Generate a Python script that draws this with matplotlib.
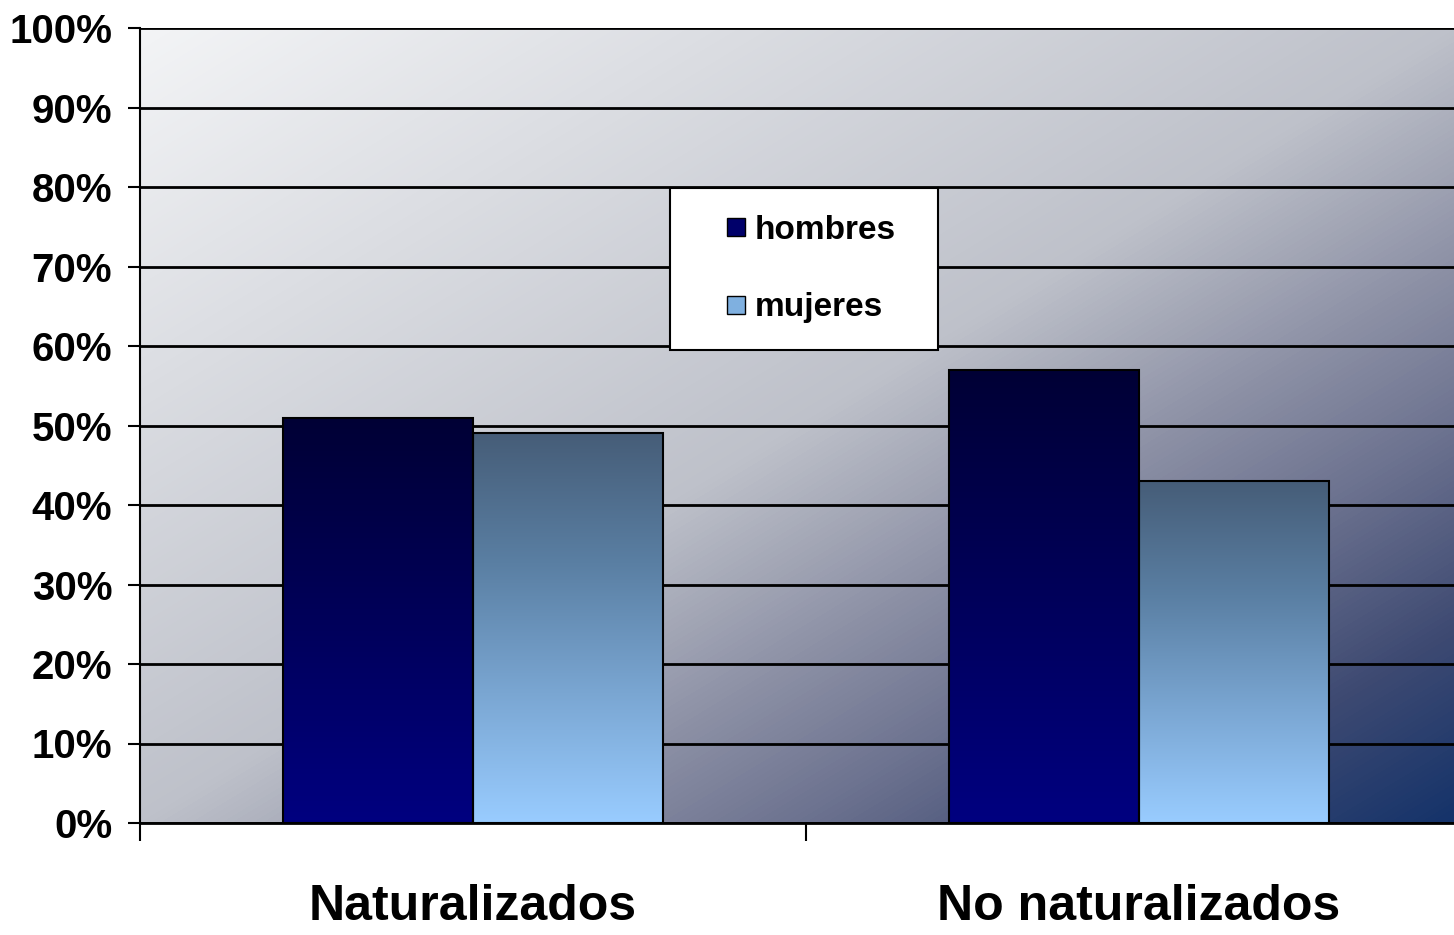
import numpy as np
import matplotlib
matplotlib.use("Agg")
import matplotlib.pyplot as plt
from matplotlib.colors import LinearSegmentedColormap
from matplotlib.lines import Line2D

# data (percent of each group)
categories = ["Naturalizados", "No naturalizados"]
hombres = [51, 57]
mujeres = [49, 43]
series_names = ["hombres", "mujeres"]
yticks = [0, 10, 20, 30, 40, 50, 60, 70, 80, 90, 100]

plt.rcParams["font.family"] = ["Liberation Sans", "DejaVu Sans"]

W, H = 1454, 935
fig = plt.figure(figsize=(W / 100, H / 100), dpi=100)
# axis area runs past the right edge of the picture, like the original
ax = fig.add_axes([140 / W, 1 - 823 / H, 1332 / W, 795 / H])

# diagonal background gradient, light top-left -> dark blue bottom-right
bg_cmap = LinearSegmentedColormap.from_list(
    "bg", [(0.0, "#f3f4f6"), (0.5, "#bec1ca"), (0.64, "#8f93a7"),
           (0.75, "#6d7390"), (0.88, "#3e4a72"), (1.0, "#15336a")])
gx, gy = np.meshgrid(np.linspace(0, 1332 / 1314, 300), np.linspace(0, 1, 200))
grad = np.clip((gx + gy) / 2, 0, 1)
ax.imshow(grad, cmap=bg_cmap, vmin=0, vmax=1, extent=[0, 1, 0, 1],
          transform=ax.transAxes, aspect="auto", zorder=0,
          interpolation="bilinear")

x = np.arange(len(categories))
w = 0.285
b1 = ax.bar(x - w / 2, hombres, w, facecolor="none", edgecolor="black",
            linewidth=1.5, zorder=4)
b2 = ax.bar(x + w / 2, mujeres, w, facecolor="none", edgecolor="black",
            linewidth=1.5, zorder=4)

h_cmap = LinearSegmentedColormap.from_list("h", ["#000080", "#00005a", "#000035"])
m_cmap = LinearSegmentedColormap.from_list("m", ["#99ccff", "#7aa6d2", "#5a7fa3", "#465d78"])
col = np.linspace(0, 1, 256).reshape(-1, 1)
for bars, cm in ((b1, h_cmap), (b2, m_cmap)):
    for r in bars:
        x0, y0 = r.get_x(), r.get_y()
        ax.imshow(col, cmap=cm, origin="lower", aspect="auto", zorder=3,
                  extent=[x0, x0 + r.get_width(), y0, y0 + r.get_height()],
                  interpolation="bilinear")

ax.set_xlim(-0.5, 1.5)
ax.set_ylim(0, 100)
ax.set_yticks(yticks)
ax.set_yticklabels([f"{v}%" for v in yticks])
ax.yaxis.grid(True, color="black", linewidth=2)
ax.set_axisbelow(False)
for gl in ax.get_ygridlines():
    gl.set_zorder(2)

ax.set_xticks([-0.5, 0.5, 1.5])
ax.set_xticklabels([])
ax.set_xticks(x, minor=True)
ax.set_xticklabels(categories, minor=True)
ax.tick_params(axis="x", which="major", length=13, width=1.5, direction="out")
ax.tick_params(axis="x", which="minor", length=0, pad=44, labelsize=36)
ax.tick_params(axis="y", length=9, width=1.5, pad=11, labelsize=29)
for t in ax.get_xticklabels(minor=True) + ax.get_yticklabels():
    t.set_fontweight("bold")

for s in ("top", "right"):
    ax.spines[s].set_visible(False)
ax.spines["left"].set_linewidth(1.5)
ax.spines["bottom"].set_linewidth(2)
ax.spines["left"].set_zorder(5)
ax.spines["bottom"].set_zorder(5)

handles = [Line2D([], [], linestyle="none", marker="s", markersize=13,
                  markerfacecolor="#00006a", markeredgecolor="black"),
           Line2D([], [], linestyle="none", marker="s", markersize=13,
                  markerfacecolor="#7fb0e0", markeredgecolor="black")]
leg = ax.legend(handles, series_names, loc="upper left", mode="expand",
                bbox_to_anchor=(670 / W, 1 - 348 / H, 268 / W, 160 / H),
                bbox_transform=fig.transFigure, fancybox=False,
                framealpha=1, edgecolor="black", borderpad=0.8,
                labelspacing=1.4, handlelength=2.35, handleheight=0.7,
                handletextpad=-0.6, borderaxespad=0,
                prop={"size": 24, "weight": "bold"})
leg.get_frame().set_linewidth(1.5)
leg.set_zorder(6)

fig.savefig("out.png", dpi=100)
